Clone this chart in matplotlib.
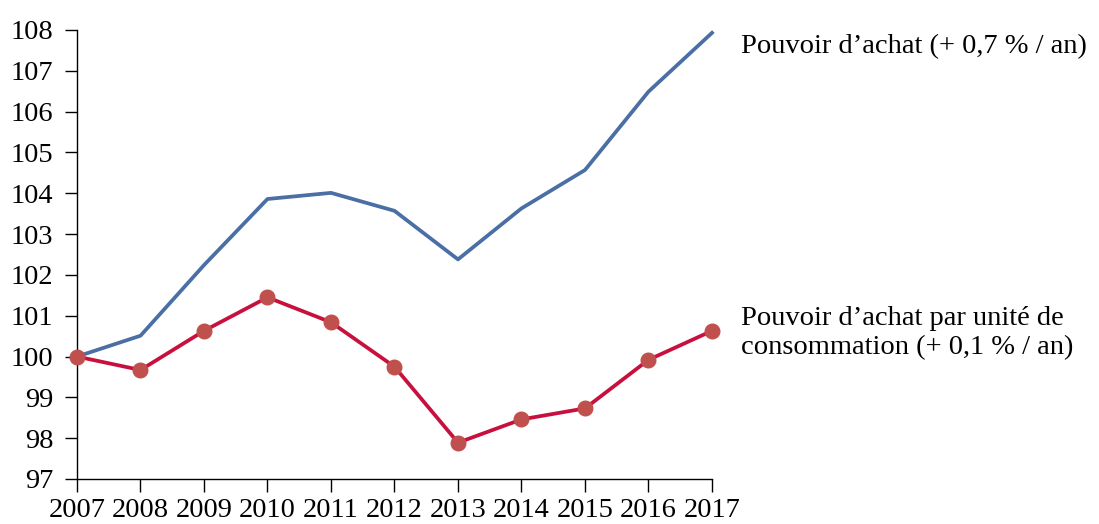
import matplotlib
matplotlib.use("Agg")
import matplotlib.pyplot as plt

years = list(range(2007, 2018))
pouvoir_achat = [100.0, 100.51, 102.24, 103.86, 104.01, 103.57,
                 102.38, 103.63, 104.57, 106.49, 107.93]
pouvoir_achat_uc = [100.0, 99.67, 100.63, 101.45, 100.84, 99.75,
                    97.89, 98.46, 98.73, 99.92, 100.63]
label_pa = "Pouvoir d’achat (+ 0,7 % / an)"
label_uc = "Pouvoir d’achat par unité de\nconsommation (+ 0,1 % / an)"

plt.rcParams["font.family"] = ["Liberation Serif", "DejaVu Serif"]
plt.rcParams["font.size"] = 20.5

W, H = 1099, 524
fig = plt.figure(figsize=(W / 100, H / 100), dpi=100)
ax = fig.add_axes([77 / W, 1 - 479 / H, (712 - 77) / W, (479 - 30) / H])

ax.plot(years, pouvoir_achat, color="#4a6fa5", lw=2.7, clip_on=False, zorder=3)
ax.plot(years, pouvoir_achat_uc, color="#c8103e", lw=2.7, marker="o",
        markersize=10.5, markerfacecolor="#c0504d", markeredgecolor="#c0504d",
        clip_on=False, zorder=4)

ax.set_xlim(2007, 2017)
ax.set_ylim(97, 108)
ax.set_xticks(years)
ax.set_yticks(range(97, 109))
for side in ("top", "right"):
    ax.spines[side].set_visible(False)
for side in ("left", "bottom"):
    ax.spines[side].set_linewidth(1.0)
ax.tick_params(axis="both", direction="out", length=9, width=1.0, colors="black")
ax.tick_params(axis="y", pad=8)
ax.tick_params(axis="x", pad=5)

ax.text(741, H - 47, label_pa, transform=None, fontsize=20.5,
        va="center", ha="left")
ax.text(741, H - 333, label_uc, transform=None, fontsize=20.5,
        va="center", ha="left", linespacing=1.2)

fig.savefig("out.png", dpi=100)
